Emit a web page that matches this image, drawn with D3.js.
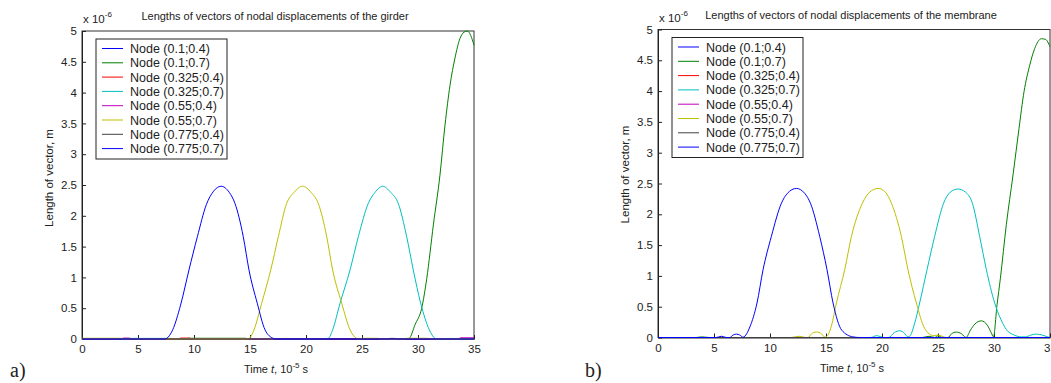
<!DOCTYPE html>
<html>
<head>
<meta charset="utf-8">
<script src="https://cdn.jsdelivr.net/npm/d3@7"></script>
<style>
  body { margin: 0; background: #fff; }
  svg text { font-family: "Liberation Sans", Arial, sans-serif; fill: #222; }
</style>
</head>
<body>
<svg id="chart" width="1051" height="383"></svg>
<script>
// tick labels
const timeTicks = [0, 5, 10, 15, 20, 25, 30, 35];
const valueTicks = [0, 0.5, 1, 1.5, 2, 2.5, 3, 3.5, 4, 4.5, 5];

// legend entries
const nodeNames = ['Node (0.1;0.4)', 'Node (0.1;0.7)', 'Node (0.325;0.4)', 'Node (0.325;0.7)',
                   'Node (0.55;0.4)', 'Node (0.55;0.7)', 'Node (0.775;0.4)', 'Node (0.775;0.7)'];

// girder: [time 1e-5 s, length 1e-6 m]
const girder_01_04 = [[0, 0], [35, 0]];
const girder_01_07 = [[0, 0], [9.2, 0], [9.5, 0.012], [14.6, 0.012], [14.9, 0], [29.0, 0], [29.22, 0.01],
  [29.73, 0.23], [30.33, 0.5], [30.78, 0.98], [31.37, 1.85], [31.96, 2.66], [32.41, 3.47], [32.86, 4.12],
  [33.3, 4.56], [33.75, 4.88], [34.1, 4.98], [34.4, 5.0], [34.7, 4.93], [35, 4.77]];
const girder_0325_04 = [[0, 0], [8.6, 0], [8.8, 0.015], [9.6, 0.015], [9.8, 0], [35, 0]];
const girder_0325_07 = [[0, 0], [4.0, 0], [4.2, 0.01], [7.9, 0.01], [8.1, 0], [21.8, 0], [22.0, 0.01],
  [22.38, 0.15], [23.04, 0.58], [23.93, 1.12], [24.67, 1.66], [25.56, 2.2], [26.16, 2.38], [26.85, 2.48],
  [27.56, 2.38], [28.24, 2.2], [28.99, 1.66], [29.58, 1.12], [30.24, 0.58], [31.01, 0.15], [31.52, 0.01],
  [31.7, 0], [35, 0]];
const girder_055_04 = [[0, 0], [3.5, 0], [3.7, 0.015], [4.2, 0.015], [4.4, 0], [33.6, 0], [33.8, 0.02], [35, 0.02]];
const girder_055_07 = [[0, 0.012], [3.5, 0.012], [3.7, 0], [14.8, 0], [14.94, 0.01], [15.36, 0.15],
  [16.04, 0.58], [16.85, 1.12], [17.53, 1.66], [18.27, 2.2], [18.93, 2.38], [19.7, 2.48], [20.45, 2.38],
  [21.1, 2.2], [21.85, 1.66], [22.38, 1.12], [23.19, 0.58], [23.93, 0.15], [24.53, 0.01], [24.8, 0],
  [25.0, 0.012], [26.4, 0.012], [26.6, 0], [28.8, 0], [29.0, 0.012], [30.9, 0.012], [31.1, 0], [35, 0]];
const girder_0775_04 = [[0, 0], [27.3, 0], [27.5, 0.01], [27.9, 0.01], [28.1, 0], [35, 0]];
const girder_0775_07 = [[0, 0], [7.4, 0], [7.56, 0.01], [8.1, 0.15], [8.8, 0.55], [9.55, 1.12], [10.3, 1.66],
  [11.1, 2.18], [11.75, 2.4], [12.42, 2.48], [13.15, 2.38], [13.66, 2.2], [14.4, 1.66], [14.91, 1.12],
  [15.65, 0.58], [16.34, 0.15], [17.08, 0.01], [17.3, 0], [35, 0]];

// membrane
const membrane_01_04 = [[0, 0], [35, 0]];
const membrane_01_07 = [[0, 0], [3.4, 0], [3.9, 0.01], [4.6, 0], [23.6, 0], [24.2, 0.02], [24.7, 0],
  [25.0, 0.03], [25.4, 0], [25.9, 0], [26.2, 0.06], [26.64, 0.088], [27.1, 0.06], [27.5, 0], [27.9, 0.12],
  [28.3, 0.22], [28.87, 0.27], [29.4, 0.2], [29.75, 0.08], [29.95, 0.01], [30.27, 0.53], [30.57, 0.96],
  [31.1, 1.83], [31.7, 2.64], [32.23, 3.39], [32.68, 3.99], [33.19, 4.42], [33.63, 4.69], [34.23, 4.85],
  [34.6, 4.84], [35, 4.72]];
const membrane_0325_04 = [[0, 0], [35, 0]];
const membrane_0325_07 = [[0, 0], [19.0, 0], [19.5, 0.03], [20.2, 0], [20.6, 0], [21.1, 0.08], [21.59, 0.11],
  [22.0, 0.07], [22.3, 0.01], [22.47, 0.02], [22.9, 0.22], [23.36, 0.56], [24.02, 1.1], [24.7, 1.64],
  [25.5, 2.18], [26.1, 2.36], [26.79, 2.41], [27.45, 2.36], [28.07, 2.18], [28.72, 1.64], [29.32, 1.1],
  [30.06, 0.56], [30.6, 0.3], [31.1, 0.13], [31.8, 0.04], [32.45, 0.01], [32.8, 0.01], [33.3, 0.04],
  [33.8, 0.055], [34.3, 0.04], [34.8, 0.01], [35, 0]];
const membrane_055_04 = [[0, 0], [35, 0]];
const membrane_055_07 = [[0, 0], [11.9, 0], [12.6, 0.02], [13.2, 0], [13.4, 0], [13.7, 0.06], [14.14, 0.09],
  [14.6, 0.06], [14.9, 0.005], [15.09, 0.02], [15.5, 0.2], [15.93, 0.56], [16.67, 1.1], [17.27, 1.64],
  [18.25, 2.18], [18.9, 2.36], [19.65, 2.42], [20.3, 2.36], [20.84, 2.18], [21.73, 1.64], [22.32, 1.1],
  [23.07, 0.56], [23.8, 0.15], [24.6, 0.03], [25.0, 0.04], [25.75, 0], [35, 0]];
const membrane_0775_04 = [[0, 0], [35, 0]];
const membrane_0775_07 = [[0, 0], [5.2, 0], [5.66, 0.02], [6.1, 0], [6.4, 0], [6.7, 0.04], [7.0, 0.055],
  [7.3, 0.04], [7.6, 0.005], [7.75, 0.02], [8.2, 0.17], [8.84, 0.56], [9.38, 1.1], [10.12, 1.64],
  [11.02, 2.18], [11.55, 2.34], [12.36, 2.42], [13.1, 2.34], [13.61, 2.18], [14.44, 1.64], [15.09, 1.1],
  [15.63, 0.56], [16.4, 0.12], [17.4, 0.01], [18, 0], [35, 0]];

const girderSeries = [girder_01_04, girder_01_07, girder_0325_04, girder_0325_07,
                      girder_055_04, girder_055_07, girder_0775_04, girder_0775_07];
const membraneSeries = [membrane_01_04, membrane_01_07, membrane_0325_04, membrane_0325_07,
                        membrane_055_04, membrane_055_07, membrane_0775_04, membrane_0775_07];

// matlab default line colours
const lineColors = ['#0000ff', '#008000', '#ff0000', '#00bfbf', '#bf00bf', '#bfbf00', '#404040', '#0000ff'];

const svg = d3.select('#chart');

function drawPanel(opts) {
  const width = 392, height = 308;
  const g = svg.append('g').attr('transform', `translate(${opts.left}, ${opts.top})`);

  const x = d3.scaleLinear().domain([0, 35]).range([0, width]);
  const y = d3.scaleLinear().domain([0, 5]).range([height, 0]);

  const clipId = 'clip-' + opts.id;
  g.append('clipPath').attr('id', clipId)
    .append('rect').attr('x', 0).attr('y', -1).attr('width', width + 1).attr('height', height + 2);

  // box
  g.append('rect')
    .attr('width', width).attr('height', height)
    .attr('fill', '#fff').attr('stroke', '#333').attr('stroke-width', 1);

  const xAxis = g.append('g')
    .attr('transform', `translate(0, ${height})`)
    .call(d3.axisBottom(x).tickValues(timeTicks).tickSizeInner(-4).tickSizeOuter(0).tickPadding(6));
  const yAxis = g.append('g')
    .call(d3.axisLeft(y).tickValues(valueTicks).tickFormat(d => String(d))
      .tickSizeInner(-4).tickSizeOuter(0).tickPadding(5));

  [xAxis, yAxis].forEach(a => {
    a.select('.domain').attr('stroke', '#222');
    a.selectAll('.tick line').attr('stroke', '#222');
    a.selectAll('.tick text')
      .style('font-family', '"Liberation Sans", Arial, sans-serif')
      .style('font-size', '11.5px').attr('fill', '#222');
  });

  // lines
  const line = d3.line()
    .x(d => x(d[0]))
    .y(d => y(d[1]))
    .curve(d3.curveMonotoneX);

  g.append('g').attr('clip-path', `url(#${clipId})`)
    .selectAll('path.series')
    .data(opts.series)
    .enter()
    .append('path')
      .attr('class', 'series')
      .attr('d', line)
      .attr('fill', 'none')
      .attr('stroke', (d, i) => lineColors[i])
      .attr('stroke-width', 1);

  // exponent label
  const expo = g.append('text').attr('x', 1).attr('y', -8).style('font-size', '11.5px');
  expo.append('tspan').text('x 10');
  expo.append('tspan').attr('dy', -6).style('font-size', '8px').text('-6');

  // title
  g.append('text')
    .attr('x', width / 2 - 3).attr('y', -11)
    .style('text-anchor', 'middle')
    .style('font-size', '11px')
    .text(opts.title);

  // axis titles
  const xl = g.append('text')
    .attr('x', width / 2 - 2).attr('y', height + 34)
    .style('text-anchor', 'middle')
    .style('font-size', '11px');
  xl.append('tspan').text('Time ');
  xl.append('tspan').style('font-style', 'italic').text('t');
  xl.append('tspan').text(', 10');
  xl.append('tspan').attr('dy', -5).style('font-size', '8px').text('-5');
  xl.append('tspan').attr('dy', 5).text(' s');

  g.append('text')
    .attr('transform', `translate(${opts.yLabelX}, ${opts.yLabelY}) rotate(-90)`)
    .style('text-anchor', 'middle')
    .style('font-size', '11.5px')
    .text('Length of vector, m');

  // legend
  const leg = g.append('g').attr('transform', 'translate(14, 8)');
  leg.append('rect')
    .attr('width', 131).attr('height', 120)
    .attr('fill', '#fff').attr('stroke', '#222').attr('stroke-width', 1);
  const rows = leg.selectAll('g.row')
    .data(nodeNames)
    .enter()
    .append('g')
      .attr('class', 'row')
      .attr('transform', (d, i) => `translate(0, ${9.5 + i * 14.3})`);
  rows.append('line')
    .attr('x1', 6).attr('x2', 27)
    .attr('stroke', (d, i) => lineColors[i]).attr('stroke-width', 1);
  rows.append('text')
    .attr('x', 34).attr('y', 4.5)
    .style('font-size', '12.5px')
    .text(d => d);

  // panel letter
  svg.append('text')
    .attr('x', opts.letterX).attr('y', 377)
    .style('font-family', '"Liberation Serif", "Times New Roman", serif')
    .style('font-size', '20px').attr('fill', '#000')
    .text(opts.letter);
}

drawPanel({
  id: 'a', left: 82, top: 31,
  series: girderSeries,
  title: 'Lengths of vectors of nodal displacements of the girder',
  yLabelX: -29, yLabelY: 147, letter: 'a)', letterX: 10
});

drawPanel({
  id: 'b', left: 658, top: 29.5,
  series: membraneSeries,
  title: 'Lengths of vectors of nodal displacements of the membrane',
  yLabelX: -29, yLabelY: 145, letter: 'b)', letterX: 585
});
</script>
</body>
</html>
